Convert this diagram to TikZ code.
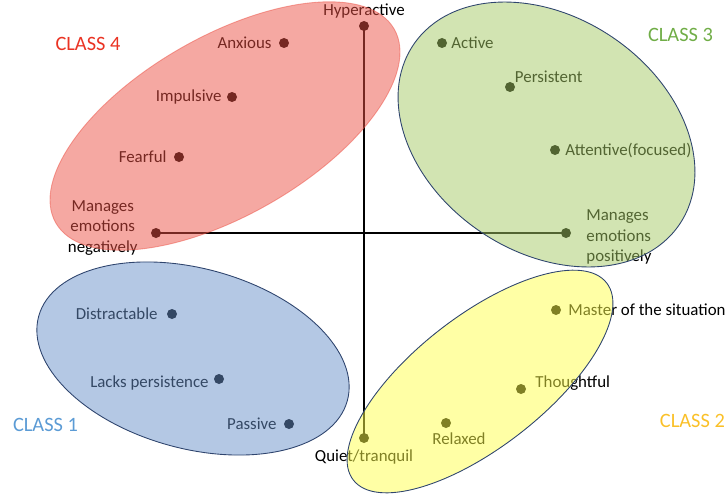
\documentclass[tikz,border=0pt]{standalone}
\usepackage{fontspec}
\setmainfont{Carlito}
\usetikzlibrary{positioning}

\definecolor{fourfill}{RGB}{235,81,69}
\definecolor{threefill}{RGB}{165,201,101}
\definecolor{onefill}{RGB}{105,145,201}
\definecolor{twofill}{RGB}{255,255,75}
\definecolor{rim}{RGB}{47,69,110}
\definecolor{fourtext}{RGB}{234,51,35}
\definecolor{threetext}{RGB}{112,173,71}
\definecolor{onetext}{RGB}{91,155,213}
\definecolor{twotext}{RGB}{250,192,40}

\begin{document}
\begin{tikzpicture}[
  trait/.style={
    circle,
    fill=black,
    minimum size=2mm,
    inner sep=0pt
  },
  word/.style={
    inner sep=1pt,
    font=\fontsize{9.6}{11.7}\selectfont
  },
  axis/.style={
    line width=1.3pt
  },
  group/.style={
    fill opacity=0.5,
    line width=0.5pt,
    draw=rim
  },
  tag/.style={
    inner sep=1pt,
    font=\fontsize{11.6}{14}\selectfont
  }
]

\path[use as bounding box] (0,0) rectangle (14.56,9.98);

% the two axes
\node[trait] (hyper) at (7.28,9.46) {};
\node[trait] (quiet) at (7.28,1.22) {};
\node[trait] (neg)   at (3.12,5.32) {};
\node[trait] (pos)   at (11.32,5.32) {};

\draw[axis] (hyper.center) -- (quiet.center);
\draw[axis] (neg.center) -- (pos.center);

\node[word, above=0pt of hyper] (hyper-t) {Hyperactive};
\node[word, below=0.09cm of quiet] (quiet-t) {Quiet/tranquil};
\node[word, align=center, left=0.22cm of neg, yshift=0.1cm] (neg-t)
  {Manages\\emotions\\negatively};
\node[word, align=left, right=0.26cm of pos, yshift=-0.08cm] (pos-t)
  {Manages\\emotions\\positively};

% class 4
\node[trait] (anx) at (5.68,9.12) {};
\node[trait] (imp) at (4.64,8.04) {};
\node[trait] (fear) at (3.58,6.84) {};
\node[word, left=0.1cm of anx] (anx-t) {Anxious};
\node[word, left=0.06cm of imp] (imp-t) {Impulsive};
\node[word, left=0.1cm of fear] (fear-t) {Fearful};

% class 3
\node[trait] (act) at (8.84,9.12) {};
\node[trait] (pers) at (10.20,8.24) {};
\node[trait] (att) at (11.10,6.98) {};
\node[word, right=0.04cm of act] (act-t) {Active};
\node[word, right=-0.05cm of pers, yshift=0.2cm] (pers-t) {Persistent};
\node[word, right=0.06cm of att] (att-t) {Attentive(focused)};

% class 2
\node[trait] (mast) at (11.12,3.78) {};
\node[trait] (thou) at (10.42,2.20) {};
\node[trait] (relx) at (8.92,1.52) {};
\node[word, right=0.1cm of mast] (mast-t) {Master of the situation};
\node[word, right=0.14cm of thou, yshift=0.12cm] (thou-t) {Thoughtful};
\node[word, below=0.05cm of relx, xshift=0.26cm] (relx-t) {Relaxed};

% class 1
\node[trait] (dist) at (3.44,3.70) {};
\node[trait] (lack) at (4.38,2.40) {};
\node[trait] (pass) at (5.78,1.50) {};
\node[word, left=0.14cm of dist] (dist-t) {Distractable};
\node[word, left=0.06cm of lack, yshift=-0.08cm] (lack-t) {Lacks persistence};
\node[word, left=0.1cm of pass] (pass-t) {Passive};

% the four groups, laid over the traits
\path[group, fill=fourfill, draw=fourfill, draw opacity=0.5,
  rotate around={29.8:(4.50,7.46)}]
  (4.50,7.46) ellipse [x radius=3.90, y radius=1.79];
\path[group, fill=threefill, rotate around={-34:(10.93,7.29)}]
  (10.93,7.29) ellipse [x radius=3.21, y radius=2.35];
\path[group, fill=onefill, rotate around={-15.3:(3.86,2.81)}]
  (3.86,2.81) ellipse [x radius=3.20, y radius=1.80];
\path[group, fill=twofill, rotate around={37.9:(9.60,2.35)}]
  (9.60,2.35) ellipse [x radius=3.21, y radius=1.31];

\node[tag, text=fourtext]  (c4) at (1.76,9.10) {CLASS 4};
\node[tag, text=threetext] (c3) at (13.61,9.28) {CLASS 3};
\node[tag, text=onetext]   (c1) at (0.91,1.48) {CLASS 1};
\node[tag, text=twotext, anchor=east] (c2) at (14.54,1.56) {CLASS 2};

\end{tikzpicture}
\end{document}
